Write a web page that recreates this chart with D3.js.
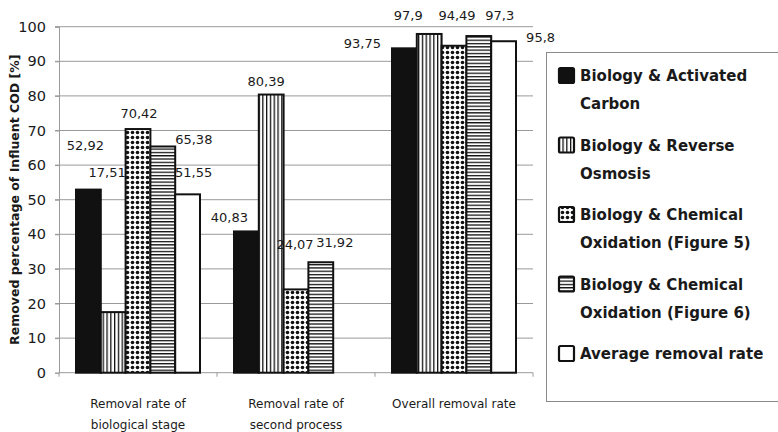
<!DOCTYPE html>
<html>
<head>
<meta charset="utf-8">
<script src="https://cdn.jsdelivr.net/npm/d3@7"></script>
<style>
  body { margin: 0; background: #fff; }
  text { font-family: "DejaVu Sans", sans-serif; fill: #1a1a1a; }
</style>
</head>
<body>
<div id="chart"></div>
<script>
// categories on the x axis (\n marks a line break)
var categories = ["Removal rate of\nbiological stage", "Removal rate of\nsecond process", "Overall removal rate"];
var seriesNames = [
    "Biology & Activated\nCarbon",
    "Biology & Reverse\nOsmosis",
    "Biology & Chemical\nOxidation (Figure 5)",
    "Biology & Chemical\nOxidation (Figure 6)",
    "Average removal rate"
];
// values per series, one per category (null = no bar)
var activatedCarbon = [52.92, 40.83, 93.75];
var reverseOsmosis = [17.51, 80.39, 97.9];
var chemOxFig5 = [70.42, 24.07, 94.49];
var chemOxFig6 = [65.38, 31.92, 97.3];
var averageRate = [51.55, null, 95.8];
var yTicks = [0, 10, 20, 30, 40, 50, 60, 70, 80, 90, 100];

var seriesValues = [activatedCarbon, reverseOsmosis, chemOxFig5, chemOxFig6, averageRate];
var fills = ["#111", "url(#vstripe)", "url(#dots)", "url(#hstripe)", "#fff"];

// the data labels in the original are nudged around by hand: [dx, dy] from bar top centre
var labelNudge = [
    [[-3, -45], [-17, -14], [-42, -5]],
    [[-6, -140], [-5, -14], [-21, -19]],
    [[1, -16], [-1, -45], [3, -31]],
    [[31, -7], [14, -20], [21, -21]],
    [[6, -22], null, [37, -4]]
];

var width = 778, height = 432;
var plot = { left: 59, right: 533, top: 26.7, bottom: 372.7 };

var svg = d3.select("#chart").append("svg")
    .attr("width", width)
    .attr("height", height);

// patterns for the bars
var defs = svg.append("defs");
var vs = defs.append("pattern").attr("id", "vstripe")
    .attr("patternUnits", "userSpaceOnUse").attr("width", 3.8).attr("height", 4);
vs.append("rect").attr("width", 3.8).attr("height", 4).attr("fill", "#fff");
vs.append("rect").attr("x", 0).attr("width", 1.3).attr("height", 4).attr("fill", "#111");

var hs = defs.append("pattern").attr("id", "hstripe")
    .attr("patternUnits", "userSpaceOnUse").attr("width", 4).attr("height", 3.3);
hs.append("rect").attr("width", 4).attr("height", 3.3).attr("fill", "#fff");
hs.append("rect").attr("y", 0).attr("width", 4).attr("height", 1.3).attr("fill", "#111");

var dt = defs.append("pattern").attr("id", "dots")
    .attr("patternUnits", "userSpaceOnUse").attr("width", 5).attr("height", 5);
dt.append("rect").attr("width", 5).attr("height", 5).attr("fill", "#fff");
dt.append("circle").attr("cx", 2.5).attr("cy", 2.5).attr("r", 1.8).attr("fill", "#111");

var x0 = d3.scaleBand().domain(d3.range(categories.length)).range([plot.left, plot.right]);
var x1 = d3.scaleBand().domain(d3.range(seriesNames.length)).range([17, x0.bandwidth() - 17]);
var y = d3.scaleLinear().domain([0, 100]).range([plot.bottom, plot.top]);

// gridlines
svg.append("g").selectAll("line")
    .data(yTicks.filter(d => d > 0))
    .enter().append("line")
    .attr("x1", plot.left - 4).attr("x2", plot.right)
    .attr("y1", d => y(d)).attr("y2", d => y(d))
    .attr("stroke", "#9a9a9a").attr("stroke-width", 1);

// y axis
var yAxis = svg.append("g")
    .attr("transform", "translate(" + plot.left + ",0)")
    .call(d3.axisLeft(y).tickValues(yTicks).tickSize(4).tickPadding(9));
yAxis.select(".domain").attr("stroke", "#9a9a9a");
yAxis.selectAll(".tick line").attr("stroke", "#9a9a9a");
yAxis.selectAll("text").style("font-size", "14.5px").attr("fill", "#1a1a1a");

// x axis
var xAxis = svg.append("g")
    .attr("transform", "translate(0," + plot.bottom + ")");
xAxis.append("line").attr("x1", plot.left).attr("x2", plot.right)
    .attr("stroke", "#9a9a9a");
xAxis.selectAll(".xtick")
    .data(d3.range(categories.length + 1))
    .enter().append("line")
    .attr("x1", d => plot.left + d * x0.bandwidth())
    .attr("x2", d => plot.left + d * x0.bandwidth())
    .attr("y1", 0).attr("y2", 4)
    .attr("stroke", "#9a9a9a");

categories.forEach(function(c, i) {
    var lines = c.split("\n");
    var t = svg.append("text")
        .attr("text-anchor", "middle")
        .style("font-size", "12px");
    lines.forEach(function(l, k) {
        t.append("tspan")
            .attr("x", x0(i) + x0.bandwidth() / 2)
            .attr("y", 408 + k * 21)
            .text(l);
    });
});

// y axis title
svg.append("text")
    .attr("transform", "translate(19," + (plot.top + plot.bottom) / 2 + ") rotate(-90)")
    .attr("text-anchor", "middle")
    .style("font-size", "12.5px")
    .style("font-weight", "bold")
    .text("Removed percentage of Influent COD [%]");

// bars
seriesValues.forEach(function(vals, s) {
    svg.append("g").selectAll("rect")
        .data(vals.map((v, i) => ({ v: v, i: i })).filter(d => d.v != null))
        .enter().append("rect")
        .attr("x", d => x0(d.i) + x1(s))
        .attr("y", d => y(d.v))
        .attr("width", x1.bandwidth())
        .attr("height", d => y(0) - y(d.v))
        .attr("fill", fills[s])
        .attr("stroke", "#111")
        .attr("stroke-width", 2);
});

// data labels
seriesValues.forEach(function(vals, s) {
    vals.forEach(function(v, i) {
        if (v == null) return;
        var n = labelNudge[s][i];
        svg.append("text")
            .attr("x", x0(i) + x1(s) + x1.bandwidth() / 2 + n[0])
            .attr("y", y(v) + n[1] + 5)
            .attr("text-anchor", "middle")
            .style("font-size", "13px")
            .text(String(v).replace(".", ","));
    });
});

// legend
var legend = svg.append("g");
legend.append("rect")
    .attr("x", 546.5).attr("y", 52.5)
    .attr("width", 260).attr("height", 349)
    .attr("fill", "#fff")
    .attr("stroke", "#8a8a8a");

seriesNames.forEach(function(name, s) {
    var cy = 75 + s * 69.5;
    legend.append("rect")
        .attr("x", 559).attr("y", cy - 7)
        .attr("width", 15).attr("height", 15)
        .attr("rx", 1.5)
        .attr("fill", fills[s])
        .attr("stroke", "#111")
        .attr("stroke-width", 2.2);
    var t = legend.append("text")
        .style("font-size", "15px")
        .style("font-weight", "bold");
    name.split("\n").forEach(function(l, k) {
        t.append("tspan")
            .attr("x", 580)
            .attr("y", cy + 6 + k * 28)
            .text(l);
    });
});
</script>
</body>
</html>
